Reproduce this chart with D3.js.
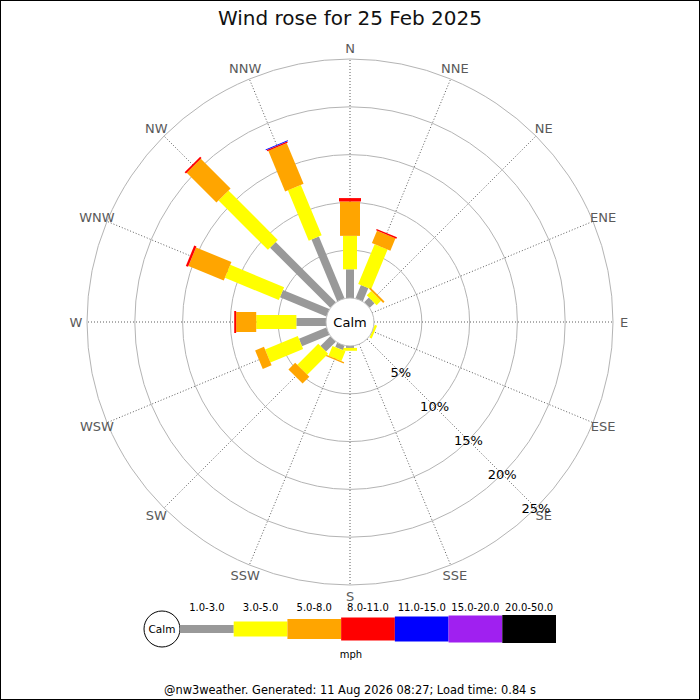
<!DOCTYPE html>
<html>
<head>
<meta charset="utf-8">
<script src="https://cdn.jsdelivr.net/npm/d3@7"></script>
<style>
  body { margin: 0; background: #fff; }
  svg { display: block; font-family: "DejaVu Sans", sans-serif; }
</style>
</head>
<body>
<svg id="rose" width="700" height="700"></svg>
<script>
// directions, clockwise from north
const directions = ['N', 'NNE', 'NE', 'ENE', 'E', 'ESE', 'SE', 'SSE', 'S', 'SSW', 'SW', 'WSW', 'W', 'WNW', 'NW', 'NNW'];
const speedBins = ['1.0-3.0', '3.0-5.0', '5.0-8.0', '8.0-11.0', '11.0-15.0', '15.0-20.0', '20.0-50.0'];
const binColors = ['#999999', '#ffff00', '#ffa500', '#ff0000', '#0000ff', '#a020f0', '#000000'];
const ringTicks = [5, 10, 15, 20, 25];

// percent of time per direction, per speed bin
const speed1to3 = [3.0, 1.5, 0.7, 0, 0, 0, 0, 0, 0.2, 0.5, 1.45, 3.1, 3.1, 5.25, 8.9, 7.0];
const speed3to5 = [3.5, 4.5, 0.65, 0, 0, 0.25, 0, 0, 0.3, 1.1, 3.1, 3.7, 4.2, 6.1, 7.3, 5.7];
const speed5to8 = [3.6, 1.4, 0.2, 0, 0, 0, 0, 0, 0, 0.15, 1.0, 1.0, 2.1, 4.0, 4.4, 4.6];
const speed8to11 = [0.35, 0.15, 0, 0, 0, 0, 0, 0, 0, 0, 0, 0, 0.2, 0.25, 0.2, 0.15];
const speed11to15 = [0, 0, 0, 0, 0, 0, 0, 0, 0, 0, 0, 0, 0, 0, 0, 0.1];
const speed15to20 = [0, 0, 0, 0, 0, 0, 0, 0, 0, 0, 0, 0, 0, 0, 0, 0];
const speed20to50 = [0, 0, 0, 0, 0, 0, 0, 0, 0, 0, 0, 0, 0, 0, 0, 0];
const series = [speed1to3, speed3to5, speed5to8, speed8to11, speed11to15, speed15to20, speed20to50];

const svg = d3.select('#rose');
const cx = 350;
const cy = 322;
const calmR = 24;
const barWidth = [8, 14, 20, 22, 24, 26, 28];

const r = d3.scaleLinear().domain([0, 25]).range([calmR, 263]);
const angle = d3.scaleBand().domain(directions).range([0, 360]).align(0).paddingInner(0).paddingOuter(0);
const deg = d => angle(d);

// border
svg.append('rect')
  .attr('x', 0.5).attr('y', 0.5).attr('width', 699).attr('height', 699)
  .attr('fill', 'none').attr('stroke', '#000');

svg.append('text')
  .attr('x', 350).attr('y', 25)
  .attr('text-anchor', 'middle')
  .attr('font-size', 20)
  .attr('fill', '#111')
  .text('Wind rose for 25 Feb 2025');

const g = svg.append('g').attr('transform', `translate(${cx},${cy})`);

g.selectAll('.ring')
  .data(ringTicks)
  .enter().append('circle')
  .attr('class', 'ring')
  .attr('r', d => r(d))
  .attr('fill', 'none')
  .attr('stroke', '#b4b4b4');

const toXY = (d, rad) => {
  const a = deg(d) * Math.PI / 180;
  return [Math.sin(a) * rad, -Math.cos(a) * rad];
};

g.selectAll('.spoke')
  .data(directions)
  .enter().append('line')
  .attr('class', 'spoke')
  .attr('x1', d => toXY(d, calmR)[0])
  .attr('y1', d => toXY(d, calmR)[1])
  .attr('x2', d => toXY(d, r(25))[0])
  .attr('y2', d => toXY(d, r(25))[1])
  .attr('stroke', '#333')
  .attr('stroke-width', 0.8)
  .attr('stroke-dasharray', '1,2');

g.selectAll('.dir-label')
  .data(directions)
  .enter().append('text')
  .attr('class', 'dir-label')
  .attr('x', d => toXY(d, 274)[0])
  .attr('y', d => toXY(d, 274)[1])
  .attr('dy', '0.35em')
  .attr('text-anchor', 'middle')
  .attr('font-size', 13)
  .attr('fill', '#5a5a5a')
  .text(d => d);

// stacked bars
directions.forEach((dir, i) => {
  let cum = 0;
  const bar = g.append('g').attr('transform', `rotate(${deg(dir)})`);
  series.forEach((s, j) => {
    const v = s[i];
    if (v > 0) {
      const y0 = r(cum);
      const y1 = r(cum + v);
      bar.append('rect')
        .attr('x', -barWidth[j] / 2)
        .attr('y', -y1)
        .attr('width', barWidth[j])
        .attr('height', Math.max(y1 - y0, 0.8))
        .attr('fill', binColors[j]);
    }
    cum += v;
  });
});

g.append('circle')
  .attr('r', calmR)
  .attr('fill', '#fff')
  .attr('stroke', '#bbb');

g.append('text')
  .attr('dy', '0.35em')
  .attr('text-anchor', 'middle')
  .attr('font-size', 13)
  .text('Calm');

// ring percentage labels along SE
g.selectAll('.pct')
  .data(ringTicks)
  .enter().append('text')
  .attr('class', 'pct')
  .attr('x', d => toXY('SE', r(d))[0])
  .attr('y', d => toXY('SE', r(d))[1])
  .attr('dy', '0.35em')
  .attr('text-anchor', 'middle')
  .attr('font-size', 13)
  .attr('fill', '#000')
  .text(d => `${d}%`);

// legend
const legendY = 629;
const lx = d3.scaleBand().domain(speedBins).range([180, 556]);
const legendH = [8, 15, 20, 23, 25, 27, 28];

svg.append('circle')
  .attr('cx', 162).attr('cy', legendY).attr('r', 18)
  .attr('fill', '#fff').attr('stroke', '#000');
svg.append('text')
  .attr('x', 162).attr('y', legendY).attr('dy', '0.35em')
  .attr('text-anchor', 'middle').attr('font-size', 10.5)
  .text('Calm');

svg.selectAll('.leg')
  .data(speedBins)
  .enter().append('rect')
  .attr('class', 'leg')
  .attr('x', d => lx(d))
  .attr('y', (d, i) => legendY - legendH[i] / 2)
  .attr('width', lx.bandwidth())
  .attr('height', (d, i) => legendH[i])
  .attr('fill', (d, i) => binColors[i]);

svg.selectAll('.leg-label')
  .data(speedBins)
  .enter().append('text')
  .attr('class', 'leg-label')
  .attr('x', d => lx(d) + lx.bandwidth() / 2)
  .attr('y', 611)
  .attr('text-anchor', 'middle')
  .attr('font-size', 10)
  .text(d => d);

svg.append('text')
  .attr('x', 351).attr('y', 658)
  .attr('text-anchor', 'middle').attr('font-size', 10)
  .text('mph');

svg.append('text')
  .attr('x', 350).attr('y', 694)
  .attr('text-anchor', 'middle').attr('font-size', 11.4)
  .text('@nw3weather. Generated: 11 Aug 2026 08:27; Load time: 0.84 s');
</script>
</body>
</html>
